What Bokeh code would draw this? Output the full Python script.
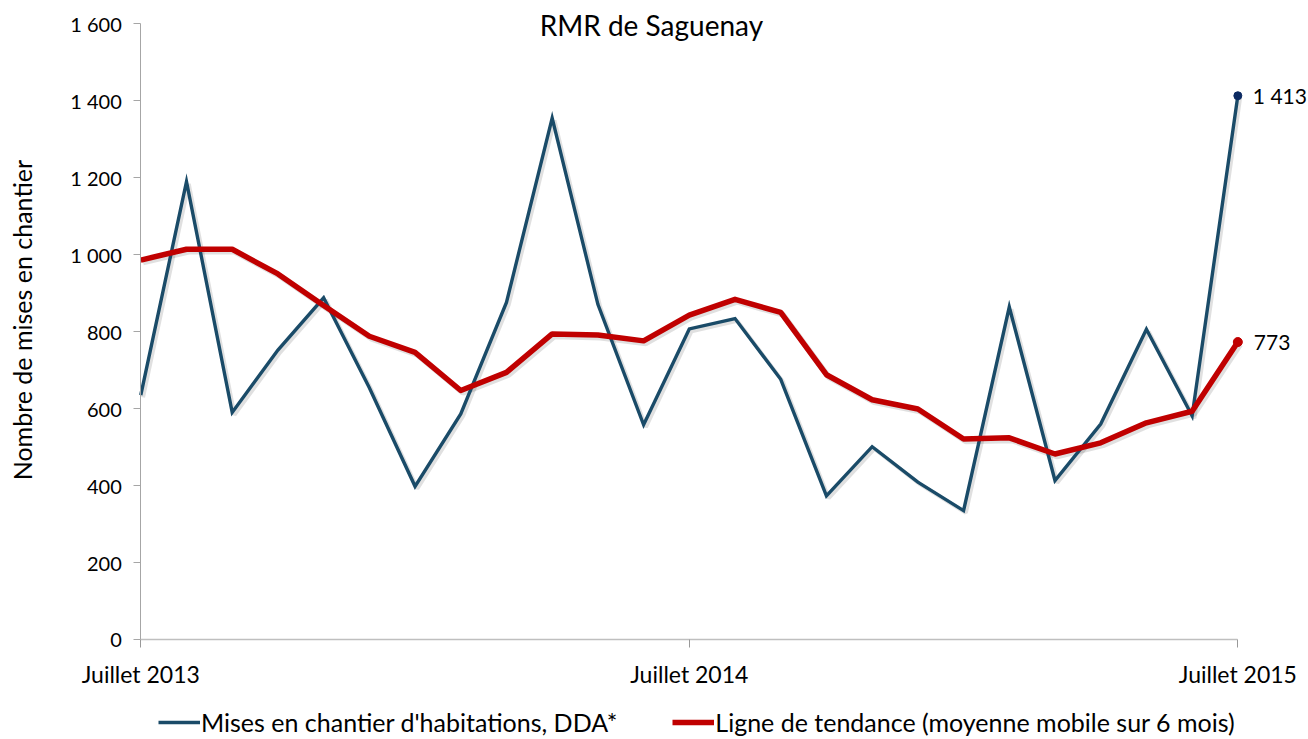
import math
from bokeh.plotting import figure
from bokeh.models import (Range1d, FixedTicker, Legend, LegendItem, Label,
                          ColumnDataSource)
from bokeh.transform import dodge
from bokeh.embed import file_html
from bokeh.resources import INLINE

# ---- data -------------------------------------------------------------
months = list(range(25))  # Juillet 2013 ... Juillet 2015 (monthly)
tick_positions = [0, 12, 24]
tick_labels = ["Juillet 2013", "Juillet 2014", "Juillet 2015"]
starts = [635, 1190, 590, 752, 888, 654, 398, 586, 876, 1355, 871, 558, 807,
          834, 676, 373, 501, 409, 335, 864, 413, 560, 806, 581, 1413]
trend = [986, 1014, 1014, 950, 868, 788, 746, 647, 694, 794, 791, 776, 843,
         884, 850, 688, 623, 599, 521, 524, 482, 511, 563, 593, 773]
y_ticks = [0, 200, 400, 600, 800, 1000, 1200, 1400, 1600]
series_names = ["Mises en chantier d'habitations, DDA*",
                "Ligne de tendance (moyenne mobile sur 6 mois)"]
title_text = "RMR de Saguenay"
y_title = "Nombre de mises en chantier"

BLUE = "#1a4b68"
NAVY = "#0c2a62"
RED = "#c00000"
FONT = "Lato"

src = ColumnDataSource(dict(x=months, s=starts, t=trend))

# frame spans the whole canvas; both axes sit at fixed data locations
p = figure(width=1308, height=739, output_backend="svg", toolbar_location=None,
           x_range=Range1d(-3.069, 25.546), y_range=Range1d(-259.9, 1660.5),
           min_border_left=0, min_border_right=0,
           min_border_top=0, min_border_bottom=0)
p.outline_line_color = None
p.grid.visible = False
p.background_fill_color = "white"
p.border_fill_color = "white"

# soft shadows under the lines
p.line(x=dodge("x", 0.05, range=p.x_range), y=dodge("s", -6, range=p.y_range),
       source=src, line_color="black", line_alpha=0.12, line_width=4)
p.line(x=dodge("x", 0.05, range=p.x_range), y=dodge("t", -6, range=p.y_range),
       source=src, line_color="black", line_alpha=0.12, line_width=6)

r_blue = p.line("x", "s", source=src, line_color=BLUE, line_width=3.4,
                line_join="miter")
r_red = p.line("x", "t", source=src, line_color=RED, line_width=5.5,
               line_join="round")

# end markers
p.scatter([months[-1]], [trend[-1]], size=9, color=RED)
p.scatter([months[-1]], [starts[-1]], size=8, color=NAVY)

def fmt(v):
    return f"{v:,}".replace(",", " ")

p.add_layout(Label(x=months[-1], y=starts[-1], text=fmt(starts[-1]),
                   x_offset=15, text_baseline="middle",
                   text_font=FONT, text_font_size="21px",
                   text_color="black"))
p.add_layout(Label(x=months[-1], y=trend[-1], text=fmt(trend[-1]),
                   x_offset=16, text_baseline="middle",
                   text_font=FONT, text_font_size="21px",
                   text_color="black"))

# title
p.add_layout(Label(x=11.17, y=1598, text=title_text, text_align="center",
                   text_baseline="alphabetic", text_font=FONT,
                   text_font_size="28px", text_color="black"))

# y-axis title
p.add_layout(Label(x=-2.59, y=830, text=y_title, angle=math.pi / 2,
                   text_align="center", text_baseline="middle",
                   text_font=FONT, text_font_size="25px", text_color="black"))

# axes
xa = p.xaxis[0]
xa.fixed_location = 0
xa.ticker = FixedTicker(ticks=tick_positions)
xa.major_label_overrides = {k: v for k, v in zip(tick_positions, tick_labels)}
xa.bounds = (0, 24)
xa.axis_line_color = "#bfbfbf"
xa.axis_line_width = 1.5
xa.major_tick_line_color = "#999999"
xa.major_tick_out = 8
xa.major_tick_in = 0
xa.minor_tick_line_color = None
xa.major_label_standoff = 13
xa.major_label_text_font = FONT
xa.major_label_text_font_size = "23px"
xa.major_label_text_color = "black"

ya = p.yaxis[0]
ya.fixed_location = 0
ya.ticker = FixedTicker(ticks=y_ticks)
ya.bounds = (0, 1600)
ya.major_label_overrides = {v: fmt(v) for v in y_ticks}
ya.axis_line_color = "#a6a6a6"
ya.major_tick_line_color = "#a6a6a6"
ya.major_tick_out = 7
ya.major_tick_in = 0
ya.minor_tick_line_color = None
ya.major_label_standoff = 12
ya.major_label_text_font = FONT
ya.major_label_text_font_size = "20px"
ya.major_label_text_color = "black"

legend = Legend(items=[LegendItem(label=series_names[0], renderers=[r_blue]),
                       LegendItem(label=series_names[1], renderers=[r_red])],
                orientation="horizontal", location=(158, 2),
                label_text_font=FONT, label_text_font_size="25px",
                label_text_color="black", glyph_width=42, glyph_height=22,
                label_height=22, label_standoff=1, spacing=55, padding=0,
                margin=0, border_line_color=None, background_fill_alpha=0)
p.add_layout(legend, "center")

open("out.html", "w").write(file_html(p, INLINE))
